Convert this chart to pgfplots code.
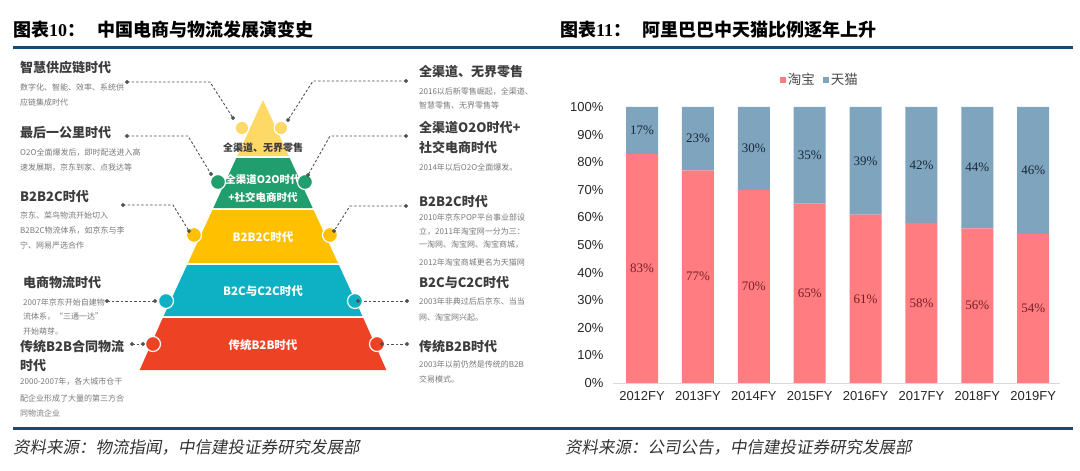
\documentclass[border=0pt]{standalone}
\usepackage{pgfplots}
\pgfplotsset{compat=1.18}
\usepackage{fontspec}
\setmainfont{Noto Sans CJK SC}
\newfontfamily\cjk{Noto Sans CJK SC}
\newfontfamily\cjkslant[FakeSlant=0.18]{Noto Sans CJK SC}
\newfontfamily\arialf{Liberation Sans}
\newfontfamily\timesf{Liberation Serif}
\definecolor{pyrA}{RGB}{255,217,102}
\definecolor{pyrB}{RGB}{33,158,109}
\definecolor{pyrC}{RGB}{255,192,0}
\definecolor{pyrD}{RGB}{14,177,196}
\definecolor{pyrE}{RGB}{237,66,36}
\definecolor{headc}{RGB}{60,60,60}
\definecolor{smc}{RGB}{120,120,120}
\definecolor{connc}{RGB}{80,80,80}
\definecolor{bluel}{RGB}{22,75,120}
\definecolor{tb}{RGB}{255,124,128}
\definecolor{tm}{RGB}{126,164,190}
\definecolor{tblab}{RGB}{120,30,40}
\definecolor{tmlab}{RGB}{25,40,60}
\newcommand\hd[3]{\node[anchor=west, inner sep=0pt, font=\fontsize{13}{13}\selectfont\bfseries, text=headc] at (#1,#2) {#3};}
\newcommand\sm[3]{\node[anchor=west, inner sep=0pt, font=\fontsize{8}{8}\selectfont, text=smc] at (#1,#2) {#3};}
\tikzset{conn/.style={connc, line width=0.9pt, dash pattern=on 2.5pt off 2pt, mark=*, mark size=1.5pt, mark options={solid, fill=connc, draw=connc}}}
\begin{document}
\begin{tikzpicture}
\begin{axis}[at={(0pt,0pt)}, anchor=south west, scale only axis, width=1080pt, height=471pt,
  xmin=0, xmax=1080, ymin=0, ymax=471, y dir=reverse, hide axis, clip=false]
% title lines
\draw[bluel, line width=3pt] (13,47) -- (1073,47);
\draw[bluel, line width=3pt] (13,428) -- (1073,428);
% titles
\node[anchor=west, inner sep=0pt, font=\fontsize{18}{18}\selectfont\bfseries, text=black] at (13,30) {图表{\timesf\bfseries 10}：};
\node[anchor=west, inner sep=0pt, font=\fontsize{18}{18}\selectfont\bfseries, text=black] at (97,30) {中国电商与物流发展演变史};
\node[anchor=west, inner sep=0pt, font=\fontsize{18}{18}\selectfont\bfseries, text=black] at (560,30) {图表{\timesf\bfseries 11}：};
\node[anchor=west, inner sep=0pt, font=\fontsize{18}{18}\selectfont\bfseries, text=black] at (642,30) {阿里巴巴中天猫比例逐年上升};
% footers
\node[anchor=west, inner sep=0pt, font=\fontsize{16.5}{16.5}\selectfont\cjkslant, text=black!80] at (13,447) {资料来源：物流指闻，中信建投证券研究发展部};
\node[anchor=west, inner sep=0pt, font=\fontsize{16.5}{16.5}\selectfont\cjkslant, text=black!80] at (565,447) {资料来源：公司公告，中信建投证券研究发展部};
% pyramid layers
\addplot[fill=pyrA, draw=none] coordinates {(263,100) (288.8,156) (237.2,156)} -- cycle;
\addplot[fill=pyrB, draw=none] coordinates {(236.3,158) (289.7,158) (312.7,208) (213.3,208)} -- cycle;
\addplot[fill=pyrC, draw=none] coordinates {(212.4,210) (313.6,210) (338,263) (188,263)} -- cycle;
\addplot[fill=pyrD, draw=none] coordinates {(187.1,265) (338.9,265) (362.4,316) (163.6,316)} -- cycle;
\addplot[fill=pyrE, draw=none] coordinates {(162.7,318) (363.3,318) (386.3,370) (139.7,370)} -- cycle;
% circles
\addplot[only marks, mark=*, mark size=6.8pt, mark options={fill=pyrA, draw=white, line width=1.2pt}] coordinates {(242,128) (281,128)};
\addplot[only marks, mark=*, mark size=7.5pt, mark options={fill=pyrB, draw=white, line width=1.2pt}] coordinates {(218,182) (305,182)};
\addplot[only marks, mark=*, mark size=7.5pt, mark options={fill=pyrC, draw=white, line width=1.2pt}] coordinates {(194,235) (330,235)};
\addplot[only marks, mark=*, mark size=7.5pt, mark options={fill=pyrD, draw=white, line width=1.2pt}] coordinates {(166,301) (355,301)};
\addplot[only marks, mark=*, mark size=7.5pt, mark options={fill=pyrE, draw=white, line width=1.2pt}] coordinates {(153,344) (377,344)};
% connectors
\addplot[conn, mark indices={1,3}] coordinates {(127,82) (210,82) (233,118)};
\addplot[conn, mark indices={1,3}] coordinates {(127,136) (188,136) (211,174)};
\addplot[conn, mark indices={1,3}] coordinates {(123,205) (173,205) (189,231)};
\addplot[conn] coordinates {(107,301) (155,301)};
\addplot[conn] coordinates {(132,344) (143,344)};
\addplot[conn, mark indices={1,3}] coordinates {(406,81) (313,81) (288,120)};
\addplot[conn, mark indices={1,3}] coordinates {(406,136) (330,136) (308,175)};
\addplot[conn, mark indices={1,3}] coordinates {(406,206) (350,206) (334,231)};
\addplot[conn] coordinates {(407,301) (358,301)};
\addplot[conn] coordinates {(407,344) (382,344)};
% pyramid labels
\node[font=\fontsize{10}{10}\selectfont\bfseries, text=headc, inner sep=0pt] at (263,148) {全渠道、无界零售};
\node[font=\fontsize{10.5}{10.5}\selectfont\bfseries, text=white, inner sep=0pt] at (263,180) {全渠道O2O时代};
\node[font=\fontsize{10.5}{10.5}\selectfont\bfseries, text=white, inner sep=0pt] at (263,197) {+社交电商时代};
\node[font=\fontsize{11.5}{11.5}\selectfont\bfseries, text=white, inner sep=0pt] at (263,237) {B2B2C时代};
\node[font=\fontsize{11.5}{11.5}\selectfont\bfseries, text=white, inner sep=0pt] at (263,291) {B2C与C2C时代};
\node[font=\fontsize{11.5}{11.5}\selectfont\bfseries, text=white, inner sep=0pt] at (263,345) {传统B2B时代};
% left texts
\hd{20}{68}{智慧供应链时代}
\sm{20}{87}{数字化、智能、效率、系统供}
\sm{20}{102}{应链集成时代}
\hd{20}{133}{最后一公里时代}
\sm{20}{153}{O2O全面爆发后，即时配送进入高}
\sm{20}{168}{速发展期，京东到家、点我达等}
\hd{20}{197}{B2B2C时代}
\sm{20}{215}{京东、菜鸟物流开始切入}
\sm{20}{231}{B2B2C物流体系，如京东与李}
\sm{20}{245}{宁、网易严选合作}
\hd{23}{283}{电商物流时代}
\sm{23}{302}{2007年京东开始自建物}
\sm{23}{317}{流体系，“三通一达”}
\sm{23}{331}{开始萌芽。}
\hd{20}{347}{传统B2B合同物流}
\hd{20}{366}{时代}
\sm{20}{382}{2000-2007年，各大城市仓干}
\sm{20}{398}{配企业形成了大量的第三方合}
\sm{20}{413}{同物流企业}
% right texts
\hd{419}{72}{全渠道、无界零售}
\sm{419}{92}{2016以后新零售崛起，全渠道、}
\sm{419}{105}{智慧零售、无界零售等}
\hd{419}{128}{全渠道O2O时代+}
\hd{419}{147}{社交电商时代}
\sm{419}{167}{2014年以后O2O全面爆发。}
\hd{419}{202}{B2B2C时代}
\sm{419}{217}{2010年京东POP平台事业部设}
\sm{419}{232}{立，2011年淘宝网一分为三：}
\sm{419}{245}{一淘网、淘宝网、淘宝商城，}
\sm{419}{262}{2012年淘宝商城更名为天猫网}
\hd{419}{283}{B2C与C2C时代}
\sm{419}{301}{2003年非典过后后京东、当当}
\sm{419}{317}{网、淘宝网兴起。}
\hd{419}{347}{传统B2B时代}
\sm{419}{364}{2003年以前仍然是传统的B2B}
\sm{419}{379}{交易模式。}
\end{axis}
\begin{axis}[at={(613pt,88pt)}, anchor=south west, scale only axis, width=447pt, height=276pt,
  ybar stacked, bar width=32pt,
  xmin=-0.52, xmax=7.48, ymin=0, ymax=100,
  axis x line=bottom, axis y line=left,
  x axis line style={-, draw={rgb,255:red,217;green,217;blue,217}, line width=0.8pt},
  y axis line style={draw=none},
  major tick length=0pt,
  xtick={0,1,2,3,4,5,6,7},
  xticklabels={2012FY,2013FY,2014FY,2015FY,2016FY,2017FY,2018FY,2019FY},
  ytick={0,10,20,30,40,50,60,70,80,90,100},
  yticklabels={0\%,10\%,20\%,30\%,40\%,50\%,60\%,70\%,80\%,90\%,100\%},
  tick label style={font=\fontsize{13}{13}\selectfont\arialf, text=black!85},
  xticklabel style={yshift=-5pt},
  yticklabel style={xshift=-6pt},
  legend style={at={(0.463,1.098)}, anchor=center, draw=none, fill=none,
    font=\fontsize{13.5}{13.5}\selectfont\cjk, text=black!70,
    legend columns=2, /tikz/every even column/.append style={column sep=6pt},
    inner sep=0pt},
  clip=false]
\addplot[fill=tb, draw=none, legend image code/.code={\fill[tb] (0pt,-3pt) rectangle (6pt,3pt);}] coordinates {(0,83) (1,77) (2,70) (3,65) (4,61) (5,58) (6,56) (7,54)};
\addplot[fill=tm, draw=none, legend image code/.code={\fill[tm] (0pt,-3pt) rectangle (6pt,3pt);}] coordinates {(0,17) (1,23) (2,30) (3,35) (4,39) (5,42) (6,44) (7,46)};
\legend{淘宝,天猫}
\end{axis}
\begin{axis}[at={(613pt,88pt)}, anchor=south west, scale only axis, width=447pt, height=276pt,
  xmin=-0.52, xmax=7.48, ymin=0, ymax=100, hide axis, clip=false]
\addplot[only marks, mark=none, nodes near coords, point meta=explicit symbolic,
  every node near coord/.append style={anchor=center, font=\fontsize{13}{13}\selectfont\timesf, text=tblab}]
  coordinates {(0,41.5)[83\%] (1,38.5)[77\%] (2,35)[70\%] (3,32.5)[65\%] (4,30.5)[61\%] (5,29)[58\%] (6,28)[56\%] (7,27)[54\%]};
\addplot[only marks, mark=none, nodes near coords, point meta=explicit symbolic,
  every node near coord/.append style={anchor=center, font=\fontsize{13}{13}\selectfont\timesf, text=tmlab}]
  coordinates {(0,91.5)[17\%] (1,88.5)[23\%] (2,85)[30\%] (3,82.5)[35\%] (4,80.5)[39\%] (5,79)[42\%] (6,78)[44\%] (7,77)[46\%]};
\end{axis}
\pgfresetboundingbox
\path[use as bounding box] (0,0) rectangle (1080pt,471pt);
\end{tikzpicture}
\end{document}
